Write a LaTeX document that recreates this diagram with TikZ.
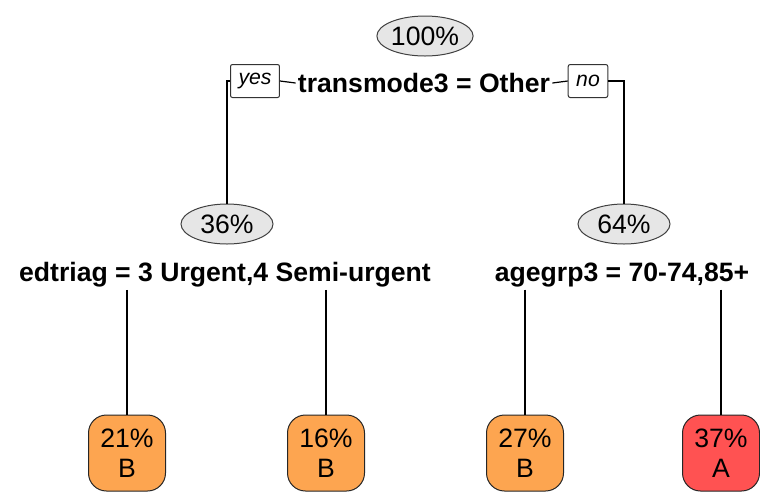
\documentclass[tikz,border=0pt]{standalone}
\usepackage{fontspec}
\setmainfont{Liberation Sans}
\usetikzlibrary{shapes.geometric}
\definecolor{nodegray}{RGB}{230,230,230}
\definecolor{leaforange}{RGB}{253,165,80}
\definecolor{leafred}{RGB}{255,82,82}
\tikzset{
  pct/.style={ellipse, draw=black!75, fill=nodegray, line width=0.5pt, minimum width=46pt, minimum height=20pt, inner sep=0pt, font=\fontsize{13.3pt}{15pt}\selectfont},
  splitlbl/.style={inner sep=1pt, font=\fontsize{13.3pt}{15pt}\selectfont\bfseries},
  answer/.style={draw=black!80, line width=0.5pt, rounded corners=1pt, minimum height=16.5pt, inner xsep=4pt, inner ysep=0pt, font=\fontsize{10.6pt}{12pt}\selectfont\itshape},
  leaf/.style={draw=black!85, line width=0.5pt, rounded corners=9pt, minimum width=38.5pt, minimum height=38pt, inner sep=0pt, align=center, font=\fontsize{13.3pt}{15pt}\selectfont},
  branch/.style={line width=0.6pt}
}
\begin{document}
\begin{tikzpicture}[x=0.5pt, y=-0.5pt]
			%%%%% START %%%%%
			
			\useasboundingbox (0, 0) rectangle (760, 494);
			
			% root
			\node[pct] (root) at (425, 36) {100\%};
			\node[splitlbl] (split1) at (424, 83) {transmode3 = Other};
			\node[answer] (yes) at (255, 81) {yes};
			\node[answer] (no) at (588, 81) {no};
			
			% second level
			\node[pct] (n36) at (227, 224) {36\%};
			\node[pct] (n64) at (624, 224) {64\%};
			\node[splitlbl] (split2) at (225, 275) {edtriag = 3 Urgent,4 Semi-urgent};
			\node[splitlbl] (split3) at (622, 275) {agegrp3 = 70-74,85+};
			
			% leaves
			\node[leaf, fill=leaforange] (leafa) at (127, 453) {21\%\\B};
			\node[leaf, fill=leaforange] (leafb) at (326, 453) {16\%\\B};
			\node[leaf, fill=leaforange] (leafc) at (525, 453) {27\%\\B};
			\node[leaf, fill=leafred] (leafd) at (721, 453) {37\%\\A};
			
			% branches
			\draw[branch] (split1.west) -- (yes.east);
			\draw[branch] (yes.west) -| (n36.north);
			\draw[branch] (split1.east) -- (no.west);
			\draw[branch] (no.east) -| (n64.north);
			
			\draw[branch] (leafa.north |- split2.south) -- (leafa.north);
			\draw[branch] (leafb.north |- split2.south) -- (leafb.north);
			\draw[branch] (leafc.north |- split3.south) -- (leafc.north);
			\draw[branch] (leafd.north |- split3.south) -- (leafd.north);
			
			%%%%% END %%%%%
\end{tikzpicture}
\end{document}
